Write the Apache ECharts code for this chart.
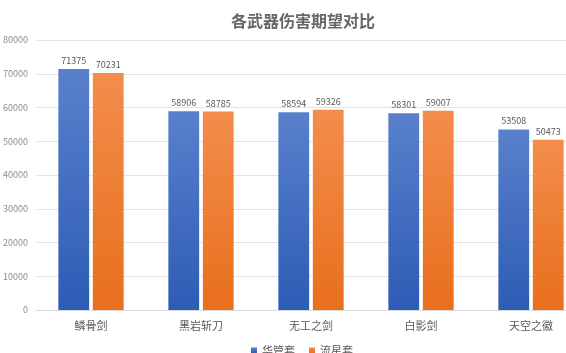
<!DOCTYPE html>
<html>
<head>
<meta charset="utf-8">
<script src="https://cdn.jsdelivr.net/npm/echarts@6/dist/echarts.min.js"></script>
<style>
html, body { margin: 0; padding: 0; background: #fff; }
#main { width: 566px; height: 353px; }
</style>
</head>
<body>
<div id="main"></div>
<script>
var categories = ['鳞骨剑', '黑岩斩刀', '无工之剑', '白影剑', '天空之徽'];
var huaguan = [71375, 58906, 58594, 58301, 53508];
var liuxing = [70231, 58785, 59326, 59007, 50473];
var yTicks = { min: 0, max: 80000, interval: 10000 };

var myChart = echarts.init(document.getElementById('main'));
var font = '"Noto Sans CJK SC", "Noto Sans", sans-serif';
var option = {
	backgroundColor : '#ffffff',
	title : {
		text : '各武器伤害期望对比',
		left : 298,
		textAlign : 'center',
		top : 8,
		textStyle : {
			fontFamily : font,
			fontSize : 16,
			fontWeight : 'bold',
			color : '#666666'
		}
	},
	legend : {
		data : [ '华管套', '流星套' ],
		top : 340,
		left : 246,
		itemWidth : 6,
		itemHeight : 6,
		itemGap : 14,
		icon : 'rect',
		textStyle : {
			fontFamily : font,
			fontSize : 11,
			color : '#595959'
		}
	},
	grid : {
		left : 36,
		right : -20,
		top : 40,
		bottom : 43,
		containLabel : false,
		outerBoundsMode : 'none'
	},
	xAxis : [ {
		type : 'category',
		data : categories,
		axisLine : { lineStyle : { color : '#d9d9d9' } },
		axisTick : { show : false },
		axisLabel : {
			fontFamily : font,
			fontSize : 11,
			color : '#595959',
			margin : 10
		}
	} ],
	yAxis : [ {
		type : 'value',
		min : yTicks.min,
		max : yTicks.max,
		interval : yTicks.interval,
		axisLine : { show : false },
		axisTick : { show : false },
		splitLine : { lineStyle : { color : '#e3e3e3' } },
		axisLabel : {
			fontFamily : font,
			fontSize : 9,
			color : '#8c8c8c',
			margin : 8,
			formatter : function (v) { return String(v); }
		}
	} ],
	series : [ {
		name : '华管套',
		type : 'bar',
		data : huaguan,
		barWidth : '28%',
		barGap : '12%',
		itemStyle : {
			color : new echarts.graphic.LinearGradient(0, 0, 0, 1, [
				{ offset : 0, color : '#5880cc' },
				{ offset : 1, color : '#2e5cb5' }
			])
		},
		label : {
			show : true,
			position : 'top',
			fontFamily : font,
			fontSize : 9,
			color : '#595959',
			distance : 4
		}
	}, {
		name : '流星套',
		type : 'bar',
		data : liuxing,
		barWidth : '28%',
		itemStyle : {
			color : new echarts.graphic.LinearGradient(0, 0, 0, 1, [
				{ offset : 0, color : '#f38d4c' },
				{ offset : 1, color : '#e86f1c' }
			])
		},
		label : {
			show : true,
			position : 'top',
			fontFamily : font,
			fontSize : 9,
			color : '#595959',
			distance : 4
		}
	} ]
};
myChart.setOption(option);
</script>
</body>
</html>
